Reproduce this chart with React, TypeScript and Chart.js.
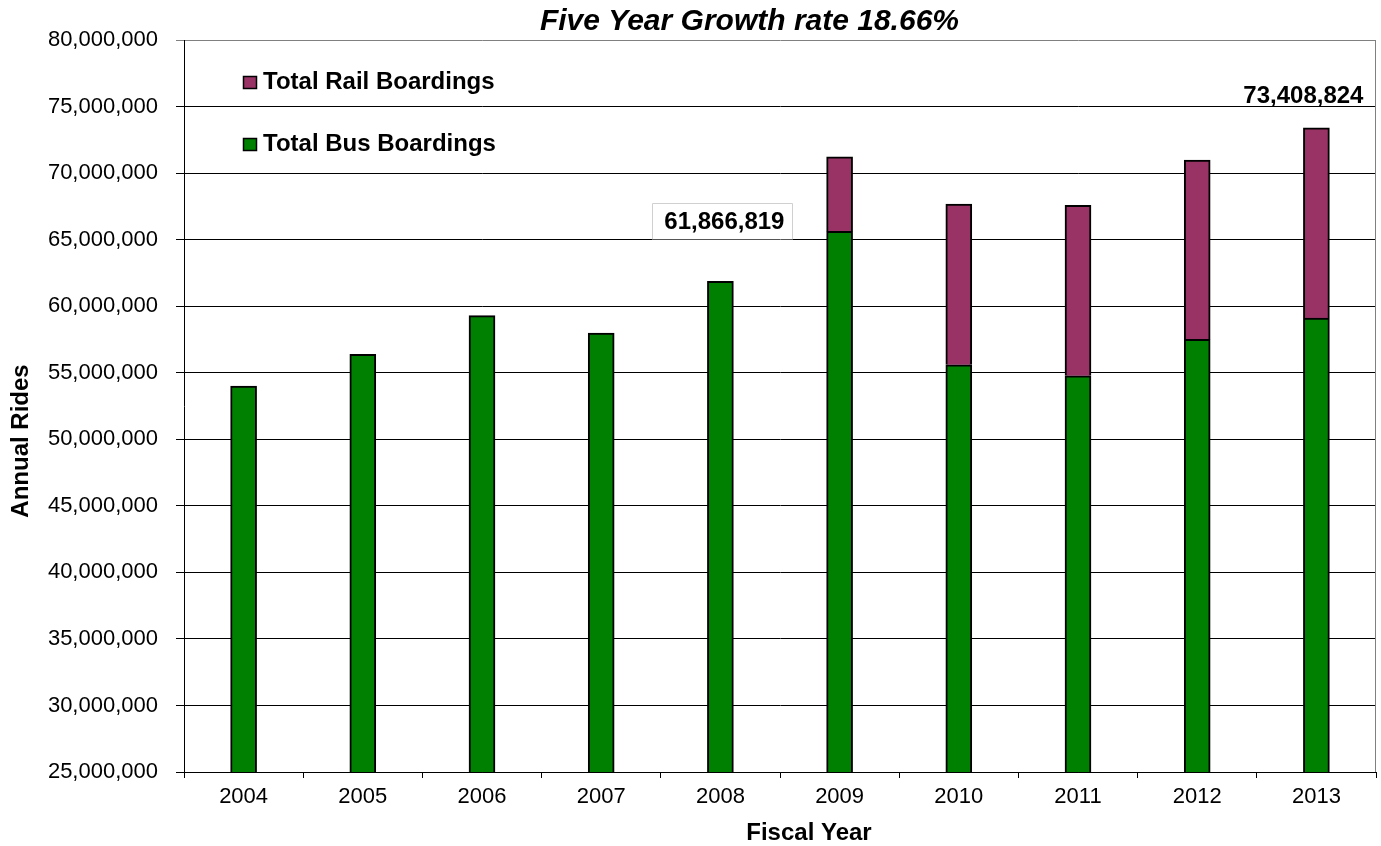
import React, { useEffect, useRef } from 'react';
import { Chart, registerables } from 'chart.js';

Chart.register(...registerables);

const years = ['2004', '2005', '2006', '2007', '2008', '2009', '2010', '2011', '2012', '2013'];
const busBoardings = [54000000, 56380000, 59290000, 57980000, 61866819, 65620000, 55600000, 54770000, 57500000, 59100000];
const railBoardings = [0, 0, 0, 0, 0, 5600000, 12080000, 12810000, 13480000, 14308824];
const yMin = 25000000;
const yMax = 80000000;
const yStep = 5000000;
const chartTitle = 'Five Year Growth rate 18.66%';
const yAxisTitle = 'Annual Rides';
const xAxisTitle = 'Fiscal Year';
const busLabel = 'Total Bus Boardings';
const railLabel = 'Total Rail Boardings';
const labeledYears = ['2008', '2013'];

const BUS_COLOR = '#008000';
const RAIL_COLOR = '#993366';
const FONT = '"Liberation Sans", Arial, sans-serif';

const fmt = (v: number) => v.toLocaleString('en-US');

const textPlugin = {
  id: 'customText',
  afterDraw(chart: any) {
    const ctx = chart.ctx as CanvasRenderingContext2D;
    const area = chart.chartArea;
    ctx.save();
    // right border (grey)
    ctx.strokeStyle = '#808080';
    ctx.lineWidth = 1;
    ctx.beginPath();
    ctx.moveTo(Math.round(area.right) - 0.5, area.top);
    ctx.lineTo(Math.round(area.right) - 0.5, area.bottom);
    ctx.stroke();

    ctx.fillStyle = '#000';
    // title
    ctx.font = `italic bold 30px ${FONT}`;
    ctx.textAlign = 'right';
    ctx.textBaseline = 'alphabetic';
    ctx.fillText(chartTitle, 959, 30);

    // x axis title
    ctx.textAlign = 'center';
    ctx.font = `bold 24px ${FONT}`;
    ctx.fillText(xAxisTitle, 809, 840);

    // y axis title
    ctx.save();
    ctx.translate(28, 441);
    ctx.rotate(-Math.PI / 2);
    ctx.textAlign = 'center';
    ctx.textBaseline = 'alphabetic';
    ctx.fillText(yAxisTitle, 0, 0);
    ctx.restore();

    // legend
    const items = [
      { label: railLabel, color: RAIL_COLOR, base: 89 },
      { label: busLabel, color: BUS_COLOR, base: 151 },
    ];
    ctx.font = `bold 24px ${FONT}`;
    ctx.textAlign = 'left';
    items.forEach((it) => {
      ctx.fillStyle = it.color;
      ctx.fillRect(243, it.base - 13, 14, 13);
      ctx.strokeStyle = '#000';
      ctx.lineWidth = 1.5;
      ctx.strokeRect(243.5, it.base - 12.5, 13, 12);
      ctx.fillStyle = '#000';
      ctx.fillText(it.label, 263, it.base);
    });

    // data labels
    const meta = chart.getDatasetMeta(0);
    const yScale = chart.scales.y;
    labeledYears.forEach((yr) => {
      const i = years.indexOf(yr);
      if (i < 0) return;
      const total = busBoardings[i] + railBoardings[i];
      const txt = fmt(total);
      const barX = meta.data[i].x;
      const top = yScale.getPixelForValue(total);
      ctx.font = `bold 24px ${FONT}`;
      const w = ctx.measureText(txt).width;
      if (i === years.length - 1) {
        const cx = barX - 13;
        const base = top - 25;
        ctx.fillStyle = '#000';
        ctx.textAlign = 'center';
        ctx.fillText(txt, cx, base);
      } else {
        const cx = barX + 4;
        const base = top - 52;
        const left = cx - w / 2 - 12;
        const right = cx + w / 2 + 8;
        ctx.fillStyle = '#fff';
        ctx.fillRect(left, base - 26, right - left, 36);
        ctx.strokeStyle = '#d0d0d0';
        ctx.lineWidth = 1;
        ctx.beginPath();
        ctx.moveTo(Math.round(left) + 0.5, base + 10);
        ctx.lineTo(Math.round(left) + 0.5, Math.round(base - 26) + 0.5);
        ctx.lineTo(Math.round(right) + 0.5, Math.round(base - 26) + 0.5);
        ctx.lineTo(Math.round(right) + 0.5, base + 10);
        ctx.stroke();
        ctx.fillStyle = '#000';
        ctx.textAlign = 'center';
        ctx.fillText(txt, cx, base);
      }
    });
    ctx.restore();
  },
};

export default function App() {
  const ref = useRef<HTMLCanvasElement | null>(null);
  useEffect(() => {
    if (!ref.current) return;
    const chart = new Chart(ref.current, {
      type: 'bar',
      data: {
        labels: years,
        datasets: [
          {
            label: busLabel,
            data: busBoardings,
            backgroundColor: BUS_COLOR,
            borderColor: '#000',
            borderWidth: 2,
            barThickness: 26,
          },
          {
            label: railLabel,
            data: railBoardings,
            backgroundColor: RAIL_COLOR,
            borderColor: '#000',
            borderWidth: 2,
            barThickness: 26,
          },
        ],
      },
      options: {
        responsive: false,
        animation: false,
        layout: { padding: { left: 0, top: 40, right: 5, bottom: 0 } },
        plugins: {
          legend: { display: false },
          title: { display: false },
          tooltip: { enabled: false },
        },
        scales: {
          x: {
            stacked: true,
            grid: {
              drawOnChartArea: false,
              drawTicks: true,
              tickLength: 6,
              color: '#000',
            },
            border: { display: true, color: '#000', width: 1 },
            ticks: {
              color: '#000',
              font: { family: FONT, size: 22 },
              padding: 6,
              maxRotation: 0,
            },
            afterFit: (scale: any) => {
              scale.height = 74;
            },
          },
          y: {
            stacked: true,
            min: yMin,
            max: yMax,
            grid: {
              color: (c: any) => (c.tick && c.tick.value === yMax ? '#808080' : '#000'),
              tickLength: 8,
              drawTicks: true,
            },
            border: { display: true, color: '#000', width: 1 },
            ticks: {
              stepSize: yStep,
              color: '#000',
              font: { family: FONT, size: 22 },
              padding: 18,
              callback: (v: any) => fmt(Number(v)),
            },
            afterFit: (scale: any) => {
              scale.width = 184;
            },
          },
        },
      },
      plugins: [textPlugin],
    });
    return () => chart.destroy();
  }, []);
  return (
    <div style={{ position: 'fixed', left: 0, top: 0, width: 1381, height: 846, background: '#fff' }}>
      <canvas ref={ref} width={1381} height={846} style={{ width: 1381, height: 846, display: 'block' }} />
    </div>
  );
}
